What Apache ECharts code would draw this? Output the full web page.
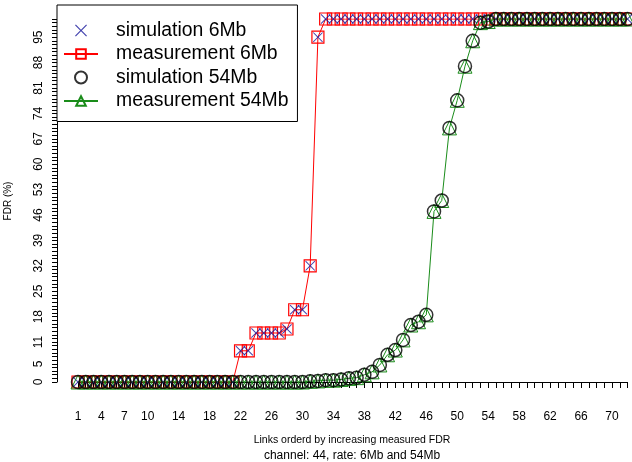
<!DOCTYPE html>
<html>
<head>
<meta charset="utf-8">
<script src="https://cdn.jsdelivr.net/npm/echarts@6/dist/echarts.min.js"></script>
<style>
  html, body { margin: 0; padding: 0; background: #fff; }
  #chart { width: 632px; height: 462px; }
</style>
</head>
<body>
<div id="chart"></div>
<script>
// link index 1..72
const links = [];
for (let i = 1; i <= 72; i++) links.push(i);

// FDR (%) per link
const meas6 = [
  0, 0, 0, 0, 0, 0, 0, 0, 0, 0,
  0, 0, 0, 0, 0, 0, 0, 0, 0, 0,
  0, 8.6, 8.6, 13.5, 13.5, 13.5, 13.5, 14.6, 19.9, 19.9,
  32, 95, 100, 100, 100, 100, 100, 100, 100, 100,
  100, 100, 100, 100, 100, 100, 100, 100, 100, 100,
  100, 100, 100, 100, 100, 100, 100, 100, 100, 100,
  100, 100, 100, 100, 100, 100, 100, 100, 100, 100,
  100, 100
];
const sim6 = meas6.slice();

const meas54 = [
  0, 0, 0, 0, 0, 0, 0, 0, 0, 0,
  0, 0, 0, 0, 0, 0, 0, 0, 0, 0,
  0, 0, 0, 0, 0, 0, 0, 0, 0, 0,
  0.2, 0.3, 0.5, 0.5, 0.7, 1, 1.2, 2, 2.8, 4.7,
  7.5, 8.8, 11.6, 15.7, 16.6, 18.5, 47, 50, 70, 77.6,
  87, 94, 99, 99.3, 100, 100, 100, 100, 100, 100,
  100, 100, 100, 100, 100, 100, 100, 100, 100, 100,
  100, 100
];
const sim54 = meas54.slice();

const xLabels = [1, 4, 7, 10, 14, 18, 22, 26, 30, 34, 38, 42, 46, 50, 54, 58, 62, 66, 70];
const yLabels = [0, 5, 11, 18, 25, 32, 39, 46, 53, 60, 67, 74, 81, 88, 95];

const FONT = 'Liberation Sans, Arial, sans-serif';
const crossPath = 'path://M0,0.7 L0.7,0 L5,4.3 L9.3,0 L10,0.7 L5.7,5 L10,9.3 L9.3,10 L5,5.7 L0.7,10 L0,9.3 L4.3,5 Z';

function pairs(vals) {
  return links.map((l, i) => [l, vals[i]]);
}

const chart = echarts.init(document.getElementById('chart'));

chart.setOption({
  animation: false,
  backgroundColor: '#fff',
  textStyle: { fontFamily: FONT },
  grid: { left: 78, right: 4.5, top: 19, bottom: 80 },
  legend: {
    orient: 'vertical',
    left: 57,
    top: 5,
    data: ['simulation 6Mb', 'measurement 6Mb', 'simulation 54Mb', 'measurement 54Mb'],
    backgroundColor: '#fff',
    borderColor: '#000',
    borderWidth: 1,
    borderRadius: 0,
    padding: [16, 9, 11, 6],
    itemGap: 4.5,
    itemWidth: 34,
    itemHeight: 12,
    textStyle: { fontSize: 19.4, color: '#000', fontFamily: FONT, padding: [0, 0, 0, 13] }
  },
  xAxis: {
    type: 'value',
    min: 1,
    max: 72,
    interval: 1,
    offset: 17,
    splitLine: { show: false },
    axisLine: { show: true, lineStyle: { color: '#000', width: 1 } },
    axisTick: { show: true, length: 6, lineStyle: { color: '#000' } },
    axisLabel: {
      margin: 12,
      fontSize: 12,
      color: '#000',
      fontFamily: FONT,
      formatter: v => (xLabels.includes(v) ? String(v) : '')
    }
  },
  yAxis: {
    type: 'value',
    min: 0,
    max: 100,
    interval: 1,
    offset: 21,
    splitLine: { show: false },
    axisLine: { show: true, lineStyle: { color: '#000', width: 1 } },
    axisTick: { show: true, length: 5, lineStyle: { color: '#000' } },
    axisLabel: {
      rotate: 90,
      margin: 12,
      fontSize: 12,
      color: '#000',
      fontFamily: FONT,
      formatter: v => (yLabels.includes(v) ? String(v) : '')
    }
  },
  series: [
    {
      name: 'measurement 6Mb',
      type: 'line',
      data: pairs(meas6),
      symbol: 'rect',
      symbolSize: 12,
      showAllSymbol: true,
      lineStyle: { color: '#ff0000', width: 1 },
      itemStyle: { color: 'rgba(0,0,0,0)', borderColor: '#ff0000', borderWidth: 1.2 },
      z: 2
    },
    {
      name: 'simulation 6Mb',
      type: 'scatter',
      data: pairs(sim6),
      symbol: crossPath,
      symbolSize: 10,
      itemStyle: { color: '#14149a' },
      z: 3
    },
    {
      name: 'measurement 54Mb',
      type: 'line',
      data: pairs(meas54),
      symbol: 'triangle',
      symbolSize: 14,
      showAllSymbol: true,
      lineStyle: { color: '#1a8c1a', width: 1 },
      itemStyle: { color: 'rgba(0,0,0,0)', borderColor: '#1a8c1a', borderWidth: 1 },
      z: 4
    },
    {
      name: 'simulation 54Mb',
      type: 'scatter',
      data: pairs(sim54),
      symbol: 'circle',
      symbolSize: 13,
      itemStyle: { color: 'rgba(0,0,0,0)', borderColor: '#000', borderWidth: 1.5 },
      z: 5
    }
  ],
  graphic: [
    {
      type: 'text',
      x: 352,
      y: 440,
      style: { text: 'Links orderd by increasing measured FDR', fontSize: 10.5, fill: '#000', fontFamily: FONT, textAlign: 'center', textVerticalAlign: 'middle' }
    },
    {
      type: 'text',
      x: 352,
      y: 456,
      style: { text: 'channel: 44, rate: 6Mb and 54Mb', fontSize: 12, fill: '#000', fontFamily: FONT, textAlign: 'center', textVerticalAlign: 'middle' }
    },
    {
      type: 'text',
      x: 8,
      y: 201,
      rotation: Math.PI / 2,
      style: { text: 'FDR (%)', fontSize: 10, fill: '#000', fontFamily: FONT, textAlign: 'center', textVerticalAlign: 'middle' }
    }
  ]
});
</script>
</body>
</html>
